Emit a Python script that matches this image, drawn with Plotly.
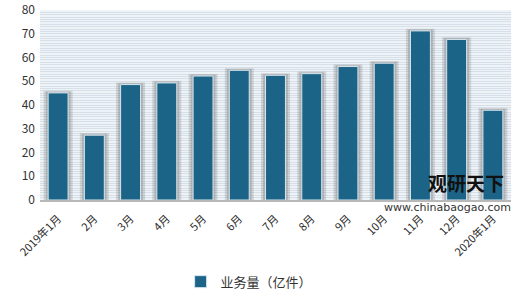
import plotly.graph_objects as go

categories = ["2019年1月", "2月", "3月", "4月", "5月", "6月", "7月", "8月", "9月",
              "10月", "11月", "12月", "2020年1月"]
volume = [45.1, 27.3, 48.6, 49.3, 52.2, 54.6, 52.5, 53.2, 56.2, 57.6, 71.2, 67.6, 37.8]
series_name = "业务量（亿件）"

FONT = "Noto Sans CJK SC, Verdana, sans-serif"

fig = go.Figure()
# soft shadow behind bars
fig.add_trace(go.Bar(
    x=categories, y=[v + 0.9 for v in volume], width=0.8,
    marker=dict(color="rgba(90,90,90,0.20)", line=dict(width=0)),
    showlegend=False, hoverinfo="skip"))
fig.add_trace(go.Bar(
    x=categories, y=[v + 0.5 for v in volume], width=0.68,
    marker=dict(color="rgba(90,90,90,0.25)", line=dict(width=0)),
    showlegend=False, hoverinfo="skip"))
fig.add_trace(go.Bar(
    x=categories, y=volume, width=0.55, name=series_name,
    marker=dict(color="#1c6487", line=dict(color="#d6e6ee", width=1))))

fig.update_layout(
    width=520, height=291,
    margin=dict(l=40, r=9, t=10, b=91, autoexpand=False),
    paper_bgcolor="white", plot_bgcolor="#eef3f7",
    barmode="overlay",
    font=dict(family=FONT, size=11, color="#333333"),
    showlegend=True,
    legend=dict(orientation="h", x=0.444, xanchor="center", y=-0.43, yanchor="middle",
                font=dict(size=13, color="#333333"), itemwidth=30,
                bgcolor="rgba(0,0,0,0)"),
    xaxis=dict(tickangle=-45, showgrid=False, showline=True, linecolor="#b8b8b8",
               linewidth=2, ticks="", automargin=False, ticklabelstandoff=6,
               tickfont=dict(size=11, color="#2a2a2a")),
    yaxis=dict(range=[0, 80], dtick=10, showgrid=True, gridcolor="#d7e0e8", gridwidth=1,
               minor=dict(dtick=1, showgrid=True, gridcolor="#d7e0e8", gridwidth=1),
               zeroline=False, ticks="", automargin=False, ticklabelstandoff=4,
               tickfont=dict(size=12, color="#333333")),
)

fig.add_annotation(text="<b>观研天下</b>", xref="paper", yref="paper",
                   x=0.99, y=0.09, xanchor="right", yanchor="middle", showarrow=False,
                   font=dict(size=19, color="#111111", family=FONT))
fig.add_annotation(text="www.chinabaogao.com", xref="paper", yref="paper",
                   x=1.005, y=-0.037, xanchor="right", yanchor="middle", showarrow=False,
                   font=dict(size=11, color="#333333", family="DejaVu Sans, sans-serif"))

fig.write_html("out.html")
